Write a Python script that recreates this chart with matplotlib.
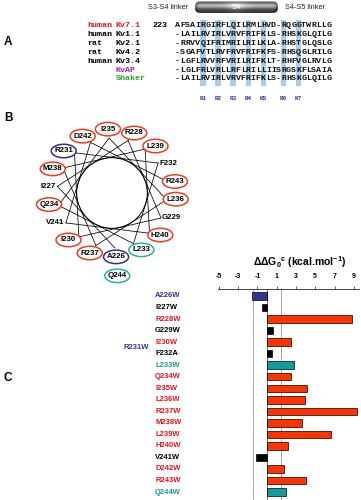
import numpy as np
import matplotlib
matplotlib.use('Agg')
import matplotlib.pyplot as plt
from matplotlib.patches import Ellipse, Circle, FancyBboxPatch, Rectangle
from matplotlib.transforms import blended_transform_factory

plt.rcParams['font.family'] = ['Liberation Sans', 'DejaVu Sans']
plt.rcParams['mathtext.fontset'] = 'custom'
plt.rcParams['mathtext.rm'] = 'Liberation Sans:bold'
plt.rcParams['mathtext.it'] = 'Liberation Sans:bold'
plt.rcParams['mathtext.bf'] = 'Liberation Sans:bold'
plt.rcParams['axes.unicode_minus'] = False

# ---- panel A : S4 alignment
species   = ['human', 'human', 'rat', 'rat', 'human', '', '']
channels  = ['Kv7.1', 'Kv1.1', 'Kv2.1', 'Kv4.2', 'Kv3.4', 'KvAP', 'Shaker']
sequences = ['AFSAIRGIRFLQILRMLHVD-RQGGTWRLLG',
             '-LAILRVIRLVRVFRIFKLS-RHSKGLQILG',
             '-RRVVQIFRIMRILRILKLA-RHSTGLQSLG',
             '-SGAFVTLRVFRVFRIFKFS-RHSQGLRILG',
             '-LGFLRVVRFVRILRIFKLT-RHFVGLRVLG',
             '-LGLFRLVRLLRFLRILLIISRGSKFLSAIA',
             '-LAILRVIRLVRVFRIFKLS-RHSKGLQILG']
row_colors = ['#e8141e', 'black', 'black', 'black', 'black', '#a020c0', '#22aa22']
start_number = '223'
charge_cols  = [5, 8, 11, 14, 17, 21, 24]
charge_names = ['R1', 'R2', 'R3', 'R4', 'K5', 'R6', 'K7']

# ---- panel B : helical wheel (KCNQ1 S4, 226-244)
wheel = ['A226', 'I227', 'R228', 'G229', 'I230', 'R231', 'F232', 'L233', 'Q234',
         'I235', 'L236', 'R237', 'M238', 'L239', 'H240', 'V241', 'D242', 'R243', 'Q244']
wheel_ring = {'A226': 'blue', 'R231': 'blue', 'L233': 'teal', 'Q244': 'teal',
              'I227': None, 'G229': None, 'F232': None, 'V241': None}

# ---- panel C : ddG values
mutants = ['A226W', 'I227W', 'R228W', 'G229W', 'I230W', 'F232A', 'L233W', 'Q234W', 'I235W',
           'L236W', 'R237W', 'M238W', 'L239W', 'H240W', 'V241W', 'D242W', 'R243W', 'Q244W']
ddg = [-1.55, -0.49, 8.8, 0.62, 2.46, 0.52, 2.77, 2.46, 4.1,
       3.9, 9.3, 3.63, 6.63, 2.15, -1.11, 1.73, 4.04, 1.94]
groups = ['blue', 'black', 'red', 'black', 'red', 'black', 'teal', 'red', 'red',
          'red', 'red', 'red', 'red', 'red', 'black', 'red', 'red', 'teal']
missing = 'R231W'
threshold = 1.45

bar_col  = {'red': '#ff3300', 'black': 'black', 'blue': '#333399', 'teal': '#139c9c'}
text_col = {'red': '#e8141e', 'black': 'black', 'blue': '#333399', 'teal': '#1a9a9a'}
ring_col = {'red': '#f03c1e', 'blue': '#30309a', 'teal': '#1fb89a'}

fig = plt.figure(figsize=(3.61, 5.0), dpi=100)
ax0 = fig.add_axes([0, 0, 1, 1])
ax0.set_xlim(0, 361)
ax0.set_ylim(500, 0)
ax0.axis('off')

# panel letters
for letter, y in [('A', 42), ('B', 118), ('C', 378)]:
    ax0.text(4, y, letter, fontsize=8.5, fontweight='bold', va='center', ha='left')

# S4 cylinder on top
x0, x1, y0, y1 = 193, 280, 1.5, 13
t = np.linspace(0, 1, 40)[:, None]
s = np.linspace(0, 1, 200)[None, :]
vert = 0.22 + 0.5 * np.exp(-((t - 0.38) / 0.25) ** 2)
ends = 0.35 + 0.65 * np.clip(np.minimum(s, 1 - s) / 0.07, 0, 1)
mid = 1 + 0.3 * np.exp(-((s - 0.5) / 0.12) ** 2)
img = np.clip(vert * ends * mid, 0, 1)
im = ax0.imshow(img, cmap='gray', vmin=0, vmax=1, extent=(x0, x1, y1, y0),
                aspect='auto', zorder=2)
clip = FancyBboxPatch((x0 + 2, y0), x1 - x0 - 4, y1 - y0,
                      boxstyle='round,pad=0,rounding_size=5',
                      transform=ax0.transData, facecolor='none', edgecolor='none')
ax0.add_patch(clip)
im.set_clip_path(clip)
ax0.text((x0 + x1) / 2, 7.3, 'S4', color='white', fontsize=5.5, ha='center', va='center', zorder=3)
ax0.text(188, 7.3, 'S3-S4 linker', fontsize=5.3, ha='right', va='center', color='#222222')
ax0.text(285, 7.3, 'S4-S5 linker', fontsize=5.3, ha='left', va='center', color='#222222')

# alignment
cw = 5.05
seq_x = 175
row_y = 25.5
dy = 8.9
for c in charge_cols:
    ax0.add_patch(Rectangle((seq_x + c * cw - 0.2, 20), cw + 0.4, 66,
                            facecolor='#a9cdec', edgecolor='none', zorder=1))
mono = dict(family='Liberation Mono', fontweight='bold', fontsize=6.0, va='center')
for r, (sp, ch, seq, col) in enumerate(zip(species, channels, sequences, row_colors)):
    y = row_y + r * dy
    if sp:
        ax0.text(87, y, sp, color=col, ha='left', **mono)
    ax0.text(116, y, ch, color=col, ha='left', **mono)
    if r == 0:
        ax0.text(152, y, start_number, color='black', ha='left', **mono)
    for i, a in enumerate(seq):
        ax0.text(seq_x + cw * (i + 0.5), y, a, color='#111111', ha='center', zorder=3, **mono)
for c, nm in zip(charge_cols, charge_names):
    ax0.text(seq_x + cw * (c + 0.5), 98, nm, color='#333399', ha='center', va='center',
             family='Liberation Mono', fontweight='bold', fontsize=4.3)

# helical wheel
cx, cy = 112, 193
theta0, step = 177, 100
r_chord, r_lab, r_out = 55, 64, 83
ax0.add_patch(Circle((cx, cy), r_chord * np.cos(np.radians(50)), fill=False,
                     lw=0.7, edgecolor='black'))
th = np.radians(theta0 + step * np.arange(len(wheel)))
px = cx + r_chord * np.sin(th)
py = cy - r_chord * np.cos(th)
for k in range(len(wheel) - 2):
    ax0.plot([px[k], px[k + 1]], [py[k], py[k + 1]], color='black', lw=0.55)
for k, name in enumerate(wheel):
    phi = th[k] + np.radians(6) * np.sin(2 * th[k])
    r = r_out if k == len(wheel) - 1 else r_lab
    lx = cx + r * np.sin(phi)
    ly = cy - r * np.cos(phi)
    ring = wheel_ring.get(name, 'red')
    if ring:
        ax0.add_patch(Ellipse((lx, ly), 25, 13.5, facecolor='white',
                              edgecolor=ring_col[ring], lw=1.1, zorder=4))
    ax0.text(lx, ly, name, fontsize=5.7, fontweight='bold', ha='center', va='center', zorder=5)

# bar chart
axc = fig.add_axes([217.8 / 361, 0, 140.9 / 361, 211 / 500])
n = len(mutants)
ypos = np.arange(n)
axc.barh(ypos, ddg, height=0.65, color=[bar_col[g] for g in groups],
         edgecolor='black', linewidth=0.5, zorder=3)
axc.axvline(0, color='#555555', lw=0.6, zorder=2)
axc.axvline(-threshold, color='#999999', lw=0.6, zorder=1)
axc.axvline(threshold, color='#999999', lw=0.6, zorder=1)
axc.set_xlim(-5.1, 9.5)
axc.set_ylim(17.69, -0.607)
axc.xaxis.tick_top()
axc.set_xticks(np.arange(-5, 10, 2))
axc.tick_params(axis='x', labelsize=5, length=2, width=0.6, pad=4.2, color='#444444')
for lab in axc.get_xticklabels():
    lab.set_fontweight('bold')
axc.set_yticks([])
for side in ['left', 'right', 'bottom']:
    axc.spines[side].set_visible(False)
axc.spines['top'].set_linewidth(0.7)
axc.spines['top'].set_color('#444444')
axc.patch.set_alpha(0)

tr = blended_transform_factory(ax0.transData, axc.transData)
for i, (m, g) in enumerate(zip(mutants, groups)):
    fig.text(155, i, m, transform=tr, fontsize=5.5, fontweight='bold',
             color=text_col[g], ha='left', va='center')
fig.text(123, 4.5, missing, transform=tr, fontsize=5.5, fontweight='bold',
         color=text_col['blue'], ha='left', va='center')

ax0.text(300, 262, r'ΔΔG$_0$$^c$ (kcal.mol$^{-1}$)', fontsize=7.5,
         fontweight='bold', ha='center', va='center')

fig.savefig('out.png', dpi=100)
